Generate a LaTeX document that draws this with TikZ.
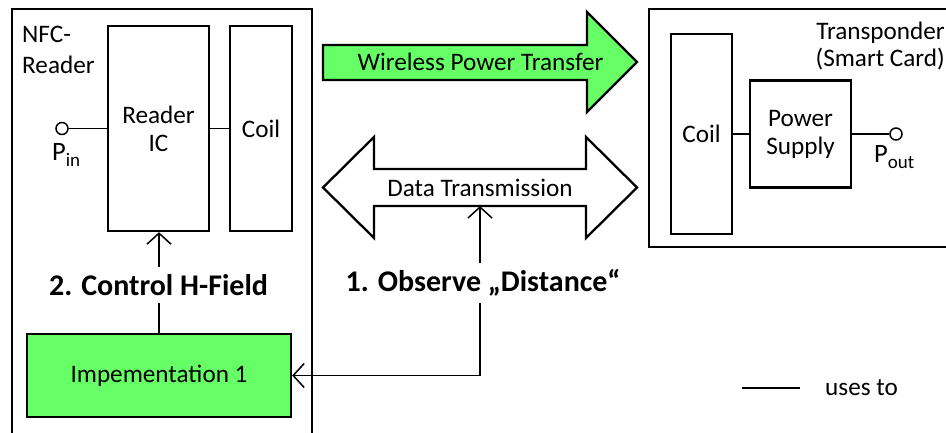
\documentclass[tikz,border=0pt]{standalone}
\usepackage{fontspec}
\setmainfont{Carlito}
\usetikzlibrary{arrows.meta}

\definecolor{fieldgreen}{RGB}{102,255,102}
% lowered, smaller subscript for the port labels
\newcommand\portsub[1]{\raisebox{-6pt}{\fontsize{19}{19}\selectfont #1}}

\begin{document}
\begin{tikzpicture}[x=1pt,y=-1pt,
  txt/.style={font=\fontsize{25.2}{28}\selectfont, align=center},
  plain/.style={txt, inner sep=0pt},
  portlbl/.style={font=\fontsize{26.5}{28}\selectfont, inner sep=0pt},
  heavy/.style={font=\fontsize{30}{34}\selectfont\bfseries, fill=white,
    inner xsep=2pt, inner ysep=7pt},
  box/.style={txt, draw, line width=2.3pt, inner sep=0pt},
  frame/.style={draw, line width=2.3pt, inner sep=0pt},
  port/.style={circle, draw, line width=1.5pt, fill=white, minimum size=12pt, inner sep=0pt},
  conn/.style={line width=1.5pt},
  barbend/.style={-{Straight Barb[length=11pt,width=24pt,line width=1.5pt]}},
  barbboth/.style={{Straight Barb[length=11pt,width=24pt,line width=1.5pt]}-{Straight Barb[length=11pt,width=24pt,line width=1.5pt]}},
  bigarrow/.style={line width=2.3pt, line join=miter}
]
\useasboundingbox (0,0) rectangle (946,432);
\clip (0,0) rectangle (946,432);

% outer frames (both run past the edge of the page)
\node[frame, minimum width=300pt, minimum height=451pt] (nfc) at (162,234.5) {};
\node[frame, minimum width=351pt, minimum height=238pt] (trans) at (824.5,128) {};

% NFC reader side
\node[plain, anchor=base west] (nfcA) at (22,42) {NFC-};
\node[plain, anchor=base west] (nfcB) at (22,73) {Reader};
\node[box, minimum width=101pt, minimum height=205pt] (ric) at (158.5,128.5) {Reader\\IC};
\node[box, minimum width=62pt, minimum height=205pt] (coilL) at (261,128.5) {Coil};
\node[port] (pin) at (62,128.5) {};
\node[portlbl, anchor=base west] (pinlbl) at (52,160) {P\portsub{in}};
\node[box, fill=fieldgreen, minimum width=264pt, minimum height=83pt] (impl) at (159,375.5) {Impementation 1};

% transponder side
\node[plain, anchor=base east] (trA) at (945,39) {Transponder};
\node[plain, anchor=base east] (trB) at (945,66) {(Smart Card)};
\node[box, minimum width=61pt, minimum height=200pt] (coilR) at (701.5,134) {Coil};
\node[box, minimum width=101pt, minimum height=107pt] (ps) at (800.5,134) {Power\\Supply};
\node[port] (pout) at (896,134) {};
\node[portlbl, anchor=base west] (poutlbl) at (874,162) {P\portsub{out}};

% wireless power transfer arrow
\draw[bigarrow, fill=fieldgreen] (323,45) -- (587,45) -- (587,12) -- (637,62)
  -- (587,112) -- (587,80) -- (323,80) -- cycle;
\node[plain] (wpt) at (480.5,62) {Wireless Power Transfer};

% data transmission double arrow
\draw[bigarrow, fill=white] (323,187.5) -- (374,137) -- (374,169) -- (586,169)
  -- (586,137) -- (637,187.5) -- (586,238) -- (586,206) -- (374,206)
  -- (374,238) -- cycle;
\node[plain] (dt) at (480,188) {Data Transmission};
\coordinate (dtport) at (480,206);

% wiring
\draw[conn] (pin) -- (ric.west |- pin);
\draw[conn] (ric.east) -- (coilL.west);
\draw[conn] (coilR.east |- ps.west) -- (ps.west);
\draw[conn] (ps.east |- pout) -- (pout);

% control loop
\draw[conn, barbend] (impl.north) -- (impl.north |- ric.south);
\draw[conn, barbboth] (dtport) |- (impl.east);
\node[heavy] (ctrl) at (158.5,285) {2. Control H-Field};
\node[heavy] (obs) at (483,283) {1. Observe „Distance“};

% legend
\coordinate (legA) at (742,388);
\coordinate (legB) at (800,388);
\draw[conn] (legA) -- (legB);
\node[plain, anchor=base west] (uses) at (825,395) {uses to};
\end{tikzpicture}
\end{document}
